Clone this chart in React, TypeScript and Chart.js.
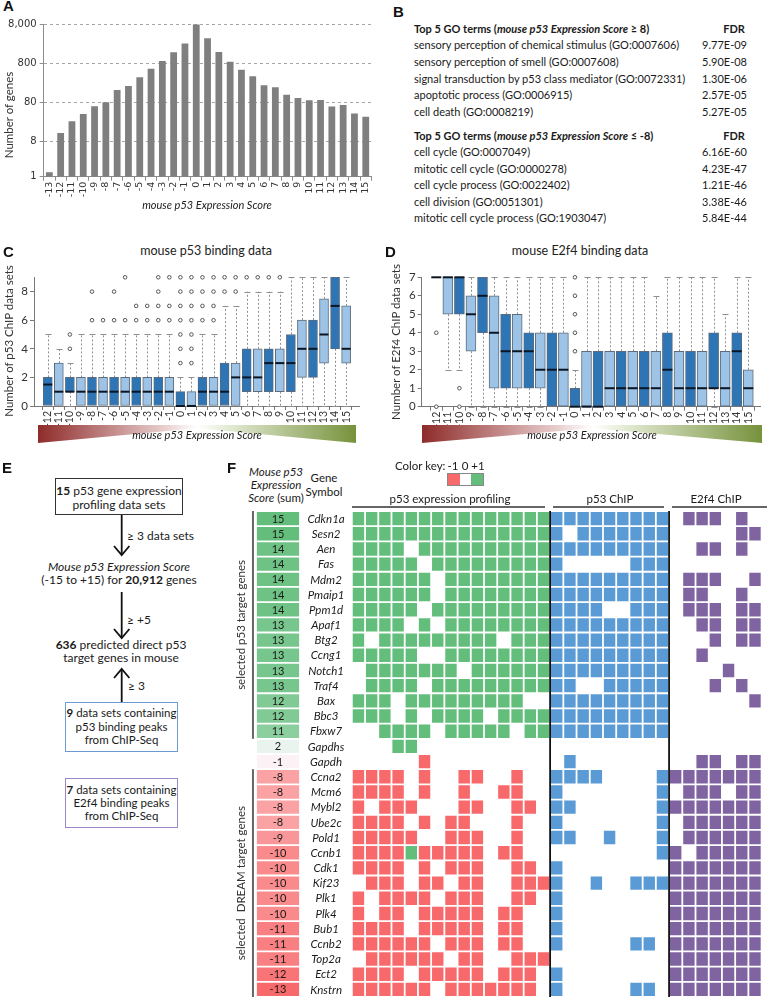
import React, { useEffect, useRef } from 'react';
import { Chart, registerables } from 'chart.js';

Chart.register(...registerables);

const FONT = "Lato, 'Noto Sans', sans-serif";
Chart.defaults.font.family = FONT;

// ---------------- Panel A data ----------------
const scoreCats = ['-13', '-12', '-11', '-10', '-9', '-8', '-7', '-6', '-5', '-4', '-3', '-2', '-1', '0', '1', '2', '3', '4', '5', '6', '7', '8', '9', '10', '11', '12', '13', '14', '15'];
const geneCounts = [1.3, 13, 26, 40, 63, 80, 165, 208, 347, 578, 908, 1513, 2522, 7720, 3450, 1543, 873, 545, 368, 217, 193, 125, 103, 90, 91, 62, 68, 41, 34];
const logTicks = [1, 8, 80, 800, 8000];

// ---------------- Panel B data ----------------
const goUpTerms = ['sensory perception of chemical stimulus (GO:0007606)', 'sensory perception of smell (GO:0007608)', 'signal transduction by p53 class mediator (GO:0072331)', 'apoptotic process (GO:0006915)', 'cell death (GO:0008219)'];
const goUpFdr = ['9.77E-09', '5.90E-08', '1.30E-06', '2.57E-05', '5.27E-05'];
const goDownTerms = ['cell cycle (GO:0007049)', 'mitotic cell cycle (GO:0000278)', 'cell cycle process (GO:0022402)', 'cell division (GO:0051301)', 'mitotic cell cycle process (GO:1903047)'];
const goDownFdr = ['6.16E-60', '4.23E-47', '1.21E-46', '3.38E-46', '5.84E-44'];

// ---------------- Panels C / D data ----------------
const boxCats = [-12, -11, -10, -9, -8, -7, -6, -5, -4, -3, -2, -1, 0, 1, 2, 3, 4, 5, 6, 7, 8, 9, 10, 11, 12, 13, 14, 15];
const p53Q1 = [0, 0, 1, 0, 0, 0, 0, 0, 0, 0, 0, 0, 0, 0, 0, 0, 0, 0, 1, 1, 1, 1, 1, 2, 2, 3, 4, 3];
const p53Med = [1.5, 1, 1, 1, 1, 1, 1, 1, 1, 1, 1, 1, 0, 0, 1, 1, 1, 2, 2, 2, 3, 3, 3, 4, 4, 5, 7, 4];
const p53Q3 = [2, 3, 2, 2, 2, 2, 2, 2, 2, 2, 2, 2, 1, 1, 2, 2, 3, 3, 4, 4, 4, 4, 5, 6, 6, 7.5, 9, 7];
const p53Lo = [0, 0, 0, 0, 0, 0, 0, 0, 0, 0, 0, 0, 0, 0, 0, 0, 0, 0, 0, 0, 0, 0, 0, 0, 0, 0, 0, 0];
const p53Hi = [5, 4, 3, 5, 5, 5, 5, 5, 5, 5, 5, 5, 2, 2, 5, 5, 7, 7, 8, 8, 8, 8, 9, 9, 9, 9, 9, 9];
const p53Out = [[], [], [4, 5], [], [6, 8], [6], [6, 8], [6, 9], [6, 7], [6, 7], [6, 7, 8, 9], [6, 7, 9], [3, 4, 5, 6, 7, 8, 9], [3, 4, 5, 6, 7, 8, 9], [6, 7, 8, 9], [6, 7, 8, 9], [8, 9], [8, 9], [9], [9], [9], [9], [], [], [], [], [], []];

const e2Q1 = [7, 5, 5, 3, 4, 1, 1, 1, 1, 1, 0, 0, 0, 0, 0, 0, 0, 0, 0, 0, 0, 0, 0, 0, 1, 0, 0, 0];
const e2Med = [7, 7, 7, 5, 6, 4, 3, 3, 3, 2, 2, 2, 0, 0, 0, 1, 1, 1, 1, 1, 2, 1, 1, 1, 1, 1, 3, 1];
const e2Q3 = [7, 7, 7, 6, 7, 6, 5, 5, 4, 4, 4, 4, 1, 3, 3, 3, 3, 3, 3, 3, 4, 3, 3, 3, 4, 3, 4, 2];
const e2Lo = [7, 2, 2, 0, 0, 0, 0, 0, 0, 0, 0, 0, 0, 0, 0, 0, 0, 0, 0, 0, 0, 0, 0, 0, 0, 0, 0, 0];
const e2Hi = [7, 7, 7, 7, 7, 7, 7, 7, 7, 7, 7, 7, 2, 7, 7, 7, 7, 7, 7, 6, 7, 7, 7, 7, 7, 5, 7, 7];
const e2Out = [[4, 0], [], [1, 0], [], [], [], [], [], [], [], [], [], [3, 4, 5, 6, 7], [], [], [], [], [], [], [], [], [], [], [], [], [], [], []];

// ---------------- Panel F data ----------------
const genes = ['Cdkn1a', 'Sesn2', 'Aen', 'Fas', 'Mdm2', 'Pmaip1', 'Ppm1d', 'Apaf1', 'Btg2', 'Ccng1', 'Notch1', 'Traf4', 'Bax', 'Bbc3', 'Fbxw7', 'Gapdhs', 'Gapdh', 'Ccna2', 'Mcm6', 'Mybl2', 'Ube2c', 'Pold1', 'Ccnb1', 'Cdk1', 'Kif23', 'Plk1', 'Plk4', 'Bub1', 'Ccnb2', 'Top2a', 'Ect2', 'Knstrn'];
const sumScores = [15, 15, 14, 14, 14, 14, 14, 13, 13, 13, 13, 13, 12, 12, 11, 2, -1, -8, -8, -8, -8, -9, -10, -10, -10, -10, -10, -11, -11, -11, -12, -13];
const exprRows = [
  '+++++++++++++++', '+++++++++++++++', '++++.++++++++++', '+++++.+++++++++', '++++++.++++++++',
  '++++++.++++++++', '+++++.+++++++++', '++++.+.++++++++', '+.+++++++++.+++', '+++++..++++++++',
  '.+++++++.++++++', '.++++.+++++++++', '+++.+++++++++..', '+++.+.++++.++++', '..++++.+++++.++',
  '...++..........', '.....-.........',
  '----.-..--..-..', '----.-..-..--..', '-.---...--..--.', '----.-.--...-..', '-----..---..-..',
  '----+-----.--..', '----.-.---..--.', '.---.--.--..---', '-.----.---..--.', '-.--.-----.--..',
  '----.-----.--..', '------.---.--..', '.------.--..---', '----.-----.---.', '------.-------.',
];
const p53ChipRows = [
  '111111111', '101111111', '111111111', '100000111', '111111111', '111111111', '111100111', '111111111',
  '111111111', '111111111', '111111111', '110011111', '111111111', '111111111', '111111111',
  '000000000', '010000000',
  '111100001', '100000001', '110000001', '100000001', '110010001', '000000001', '100000000', '100100111',
  '100000000', '100000000', '100000000', '100000110', '000000000', '100000000', '100000110',
];
const e2f4ChipRows = [
  '0111010', '0000011', '0011010', '0000000', '0111001', '0110010', '0111011', '0011011', '0001011',
  '0010000', '0000100', '0001010', '0000001', '0000000', '0000000',
  '0000000', '0011011',
  '1111111', '0111011', '1111111', '0111111', '0111111', '1011111', '1111111', '1111111', '1111111',
  '1111111', '1111111', '1111111', '1111111', '1111111', '1111111',
];

// ---------------- styles ----------------
const DARK = '#2e75b6';
const LIGHT = '#9dc3e6';
const HM_GREEN = '#63be7b';
const HM_RED = '#f8696b';
const HM_BLUE = '#5b9bd5';
const HM_PURPLE = '#8064a2';

function mix(a: number[], b: number[], t: number) {
  return `rgb(${a.map((v, i) => Math.round(v + (b[i] - v) * t)).join(',')})`;
}
function scoreColor(s: number) {
  const W = [252, 252, 255], G = [99, 190, 123], R = [248, 105, 107];
  return s >= 0 ? mix(W, G, s / 15) : mix(W, R, -s / 13);
}

function ChartCanvas({ left, top, width, height, make }: { left: number; top: number; width: number; height: number; make: () => any }) {
  const ref = useRef<HTMLCanvasElement | null>(null);
  useEffect(() => {
    if (!ref.current) return;
    const chart = new Chart(ref.current, make());
    return () => chart.destroy();
  }, []);
  return <canvas ref={ref} width={width} height={height} style={{ position: 'absolute', left, top, width, height }} />;
}

function configA() {
  return {
    type: 'bar',
    data: {
      labels: scoreCats,
      datasets: [{ data: geneCounts, backgroundColor: '#7f7f7f', barPercentage: 0.6, categoryPercentage: 1 }],
    },
    options: {
      animation: false, responsive: false, devicePixelRatio: 1, events: [],
      layout: { padding: { top: 24, right: 8.6, left: 0, bottom: 0 } },
      plugins: { legend: { display: false }, tooltip: { enabled: false } },
      scales: {
        x: {
          grid: { offset: true, drawOnChartArea: false, tickLength: 4, color: '#8c8c8c' },
          border: { color: '#8c8c8c' },
          ticks: { autoSkip: false, minRotation: 90, maxRotation: 90, padding: 1, color: '#333', font: { family: 'DejaVu Sans', size: 9.5 } },
          afterFit: (s: any) => { s.height = 23.3; },
        },
        y: {
          type: 'logarithmic', min: 1, max: 8000,
          afterBuildTicks: (s: any) => { s.ticks = logTicks.map((v) => ({ value: v })); },
          ticks: { callback: (v: any) => Number(v).toLocaleString('en-US'), color: '#333', padding: 3, font: { family: 'DejaVu Sans', size: 10 } },
          grid: { color: (ctx: any) => (ctx.tick && ctx.tick.value === 1 ? 'rgba(0,0,0,0)' : '#a6a6a6'), tickColor: '#8c8c8c', tickLength: 4 },
          border: { dash: [3, 3], color: '#8c8c8c' },
          afterFit: (s: any) => { s.width = 43.7; },
        },
      },
    },
  };
}

type BoxP = {
  q1: number[]; med: number[]; q3: number[]; lo: number[]; hi: number[]; out: number[][];
  yMax: number; xMin: number; xMax: number; padTop: number; padRight: number; axisW: number; axisH: number; thick: number; cap: number;
};

function makeBox(p: BoxP) {
  const colors = boxCats.map((_, i) => (i % 2 === 0 ? DARK : LIGHT));
  const outPts: { x: number; y: number }[] = [];
  p.out.forEach((arr, i) => arr.forEach((v) => outPts.push({ x: boxCats[i], y: v })));
  const whisker = {
    id: 'whisker',
    beforeDatasetsDraw(chart: any) {
      const { ctx, scales: { x, y } } = chart;
      ctx.save();
      ctx.strokeStyle = '#8f8f8f';
      ctx.lineWidth = 1;
      boxCats.forEach((c, i) => {
        const px = Math.round(x.getPixelForValue(c)) + 0.5;
        const yq1 = y.getPixelForValue(p.q1[i]);
        const yq3 = y.getPixelForValue(p.q3[i]);
        const ylo = y.getPixelForValue(p.lo[i]);
        const yhi = y.getPixelForValue(p.hi[i]);
        ctx.setLineDash([2, 2]);
        ctx.beginPath();
        if (p.hi[i] > p.q3[i]) { ctx.moveTo(px, yq3); ctx.lineTo(px, yhi); }
        if (p.lo[i] < p.q1[i]) { ctx.moveTo(px, yq1); ctx.lineTo(px, ylo); }
        ctx.stroke();
        ctx.setLineDash([]);
        ctx.beginPath();
        if (p.hi[i] > p.q3[i]) { ctx.moveTo(px - p.cap, Math.round(yhi) + 0.5); ctx.lineTo(px + p.cap, Math.round(yhi) + 0.5); }
        if (p.lo[i] < p.q1[i]) { ctx.moveTo(px - p.cap, Math.round(ylo) + 0.5); ctx.lineTo(px + p.cap, Math.round(ylo) + 0.5); }
        ctx.stroke();
      });
      ctx.restore();
    },
  };
  return {
    type: 'bar',
    data: {
      datasets: [
        {
          type: 'line', order: 0, clip: false, showLine: false,
          data: boxCats.map((c, i) => ({ x: c, y: p.med[i] })),
          pointStyle: 'line', pointRadius: p.thick / 2, pointBorderWidth: 2, pointBorderColor: '#0a1624',
        },
        {
          type: 'line', order: 1, clip: false, showLine: false, data: outPts,
          pointStyle: 'circle', pointRadius: 1.8, pointBorderWidth: 1, pointBorderColor: '#555', pointBackgroundColor: '#fff',
        },
        {
          type: 'bar', order: 2, clip: false,
          data: boxCats.map((c, i) => ({ x: c, y: [p.q1[i], p.q3[i]] })),
          backgroundColor: colors, borderColor: '#5c6c7c', borderWidth: 1, borderSkipped: false, barThickness: p.thick,
        },
      ],
    },
    options: {
      animation: false, responsive: false, devicePixelRatio: 1, events: [],
      layout: { padding: { top: p.padTop, right: p.padRight, left: 0, bottom: 0 } },
      plugins: { legend: { display: false }, tooltip: { enabled: false } },
      scales: {
        x: {
          type: 'linear', min: p.xMin, max: p.xMax,
          afterBuildTicks: (s: any) => { s.ticks = boxCats.map((v) => ({ value: v })); },
          ticks: { autoSkip: false, minRotation: 90, maxRotation: 90, padding: 1, color: '#333', font: { size: 10.5 }, callback: (v: any) => String(v) },
          grid: { drawOnChartArea: false, tickLength: 4, color: '#777' },
          border: { color: '#777' },
          afterFit: (s: any) => { s.height = p.axisH; },
        },
        y: {
          min: 0, max: p.yMax,
          ticks: { stepSize: 1, color: '#333', padding: 2, font: { size: 11.5 } },
          grid: { drawOnChartArea: false, tickLength: 4, color: '#777' },
          border: { color: '#777' },
          afterFit: (s: any) => { s.width = p.axisW; },
        },
      },
    },
    plugins: [whisker],
  };
}

const configC = () => makeBox({ q1: p53Q1, med: p53Med, q3: p53Q3, lo: p53Lo, hi: p53Hi, out: p53Out, yMax: 9, xMin: -12.72, xMax: 15.72, padTop: 37.3, padRight: 20.1, axisW: 34, axisH: 34, thick: 9, cap: 3 });
const configD = () => makeBox({ q1: e2Q1, med: e2Med, q3: e2Q3, lo: e2Lo, hi: e2Hi, out: e2Out, yMax: 7, xMin: -12.74, xMax: 15.49, padTop: 37.3, padRight: 0.9, axisW: 36.7, axisH: 33.3, thick: 10, cap: 3 });

const SCORE_X0 = -7.25;
const SCORE_X1 = -3.92;
const GENE_X = -1.95;

function cellValue(r: number, c: number) {
  if (c < 15) { const ch = exprRows[r][c]; return ch === '+' ? 1 : ch === '-' ? -1 : 0; }
  if (c < 24) return p53ChipRows[r][c - 15] === '1' ? 1 : 0;
  return e2f4ChipRows[r][c - 24] === '1' ? 1 : 0;
}
function cellColor(c: number, v: number) {
  if (c < 15) return v > 0 ? HM_GREEN : HM_RED;
  if (c < 24) return HM_BLUE;
  return HM_PURPLE;
}

function configF() {
  const common = { borderColor: '#ffffff', borderWidth: 0.9, borderSkipped: false, grouped: false, barPercentage: 1, categoryPercentage: 1, inflateAmount: 0 };
  const datasets: any[] = [
    { ...common, data: genes.map(() => [SCORE_X0, SCORE_X1]), backgroundColor: sumScores.map(scoreColor) },
  ];
  for (let c = 0; c < 31; c++) {
    const data: any[] = [];
    const bg: string[] = [];
    genes.forEach((_, r) => {
      const v = cellValue(r, c);
      data.push(v !== 0 ? [c, c + 1] : null);
      bg.push(v !== 0 ? cellColor(c, v) : 'rgba(0,0,0,0)');
    });
    datasets.push({ ...common, data, backgroundColor: bg });
  }
  const textPlugin = {
    id: 'heatText',
    afterDatasetsDraw(chart: any) {
      const { ctx, scales: { x, y }, chartArea } = chart;
      const band = y.getPixelForValue(1) - y.getPixelForValue(0);
      ctx.save();
      ctx.textAlign = 'center';
      ctx.textBaseline = 'middle';
      genes.forEach((g, r) => {
        const yc = y.getPixelForValue(r);
        ctx.fillStyle = '#1a1a1a';
        ctx.font = `11px ${FONT}`;
        ctx.fillText(String(sumScores[r]), x.getPixelForValue((SCORE_X0 + SCORE_X1) / 2), yc + 0.5);
        ctx.font = `italic 11.5px ${FONT}`;
        ctx.fillText(g, x.getPixelForValue(GENE_X), yc + 0.5);
      });
      ctx.strokeStyle = '#111';
      ctx.lineWidth = 1.8;
      [15, 24].forEach((v) => {
        const px = x.getPixelForValue(v);
        ctx.beginPath();
        ctx.moveTo(px, chartArea.top);
        ctx.lineTo(px, chartArea.bottom);
        ctx.stroke();
      });
      const bx = x.getPixelForValue(-7.48);
      ctx.strokeStyle = '#666';
      ctx.lineWidth = 2;
      const groups = [[0, 14, 'selected p53 target genes'], [17, 31, 'selected  DREAM target genes']] as [number, number, string][];
      groups.forEach(([a, b, label]) => {
        const y0 = y.getPixelForValue(a) - band / 2;
        const y1 = y.getPixelForValue(b) + band / 2;
        ctx.beginPath();
        ctx.moveTo(bx, y0);
        ctx.lineTo(bx, y1);
        ctx.stroke();
        ctx.save();
        ctx.translate(x.getPixelForValue(-8.4), (y0 + y1) / 2);
        ctx.rotate(-Math.PI / 2);
        ctx.fillStyle = '#333';
        ctx.font = `11.5px ${FONT}`;
        ctx.fillText(label, 0, 0);
        ctx.restore();
      });
      ctx.restore();
    },
  };
  return {
    type: 'bar',
    data: { labels: genes, datasets },
    options: {
      indexAxis: 'y', animation: false, responsive: false, devicePixelRatio: 1, events: [],
      layout: { padding: { top: 6, right: 5.4, left: 31, bottom: 0 } },
      plugins: { legend: { display: false }, tooltip: { enabled: false } },
      scales: {
        x: { type: 'linear', min: SCORE_X0, max: 31, display: false },
        y: { type: 'category', display: false, offset: true },
      },
    },
    plugins: [textPlugin],
  };
}

// ---------------- HTML helpers ----------------
function T({ x, y, align = 'left', size = 11, style, children }: any) {
  const tr = align === 'center' ? 'translateX(-50%)' : align === 'right' ? 'translateX(-100%)' : undefined;
  return (
    <div style={{ position: 'absolute', left: x, top: y - 8, height: 16, lineHeight: '16px', whiteSpace: 'pre', transform: tr, fontFamily: FONT, fontSize: size, color: '#1a1a1a', ...style }}>
      {children}
    </div>
  );
}
function VT({ x, y, size = 11.5, children, style }: any) {
  return (
    <div style={{ position: 'absolute', left: x, top: y, transform: 'translate(-50%,-50%) rotate(-90deg)', whiteSpace: 'pre', fontFamily: FONT, fontSize: size, color: '#333', lineHeight: '14px', ...style }}>
      {children}
    </div>
  );
}
function Letter({ x, y, children }: any) {
  return <div style={{ position: 'absolute', left: x, top: y - 9, lineHeight: '18px', fontFamily: "'Liberation Sans', Arial, sans-serif", fontWeight: 'bold', fontSize: 15, color: '#111' }}>{children}</div>;
}
function Wedge({ x, w, textX }: { x: number; w: number; textX: number }) {
  return (
    <>
      <div style={{ position: 'absolute', left: x, top: 425, width: w, height: 18, background: 'linear-gradient(to right, #8e2c2a, #e9cfcf 40%, #ffffff 50%, #e3ead3 60%, #76923c)', clipPath: 'polygon(0 0, 100% 0, 100% 100%, 50% 18%, 0 100%)' }} />
      <T x={textX} y={435} align="center" size={11} style={{ fontStyle: 'italic', color: '#222' }}>mouse p53 Expression Score</T>
    </>
  );
}

export default function App() {
  useEffect(() => {
    document.body.style.margin = '0';
    document.body.style.overflow = 'hidden';
  }, []);
  const bRowsY1 = [45.3, 61.9, 78.5, 95.1, 111.7];
  const bRowsY2 = [152, 168.6, 185.2, 201.8, 218.4];
  const BS = 11;
  return (
    <div style={{ position: 'absolute', left: 0, top: 0, width: 767, height: 997, overflow: 'hidden', background: '#fff', fontFamily: FONT }}>
      {/* Panel A */}
      <Letter x={3} y={6}>A</Letter>
      <ChartCanvas left={0} top={0} width={380} height={200} make={configA} />
      <VT x={9} y={115} size={11.5}>Number of genes</VT>
      <T x={207} y={205} align="center" size={11} style={{ fontStyle: 'italic', color: '#222' }}>mouse p53 Expression Score</T>

      {/* Panel B */}
      <Letter x={393} y={12}>B</Letter>
      <T x={414} y={29} size={BS} style={{ fontWeight: 'bold' }}>Top 5 GO terms (<i>mouse p53 Expression Score</i> ≥ 8)</T>
      <T x={734} y={29} size={BS} align="center" style={{ fontWeight: 'bold' }}>FDR</T>
      {goUpTerms.map((t, i) => <T key={'u' + i} size={BS} x={414} y={bRowsY1[i]}>{t}</T>)}
      {goUpFdr.map((t, i) => <T key={'uf' + i} size={BS} x={747} y={bRowsY1[i]} align="right">{t}</T>)}
      <T x={414} y={136} size={BS} style={{ fontWeight: 'bold' }}>Top 5 GO terms (<i>mouse p53 Expression Score</i> ≤ -8)</T>
      <T x={734} y={136} size={BS} align="center" style={{ fontWeight: 'bold' }}>FDR</T>
      {goDownTerms.map((t, i) => <T key={'d' + i} size={BS} x={414} y={bRowsY2[i]}>{t}</T>)}
      {goDownFdr.map((t, i) => <T key={'df' + i} size={BS} x={747} y={bRowsY2[i]} align="right">{t}</T>)}

      {/* Panel C */}
      <Letter x={3} y={252}>C</Letter>
      <T x={206} y={251} align="center" size={12.5} style={{ color: '#222' }}>mouse p53 binding data</T>
      <ChartCanvas left={0} top={240} width={380} height={200} make={configC} />
      <VT x={9} y={341}>Number of p53 ChIP data sets</VT>
      <Wedge x={38} w={318} textX={197} />

      {/* Panel D */}
      <Letter x={385} y={252}>D</Letter>
      <T x={580} y={251} align="center" size={12.5} style={{ color: '#222' }}>mouse E2f4 binding data</T>
      <ChartCanvas left={385} top={240} width={382} height={200} make={configD} />
      <VT x={396} y={342}>Number of E2f4 ChIP data sets</VT>
      <Wedge x={422} w={340} textX={592} />

      {/* Panel E */}
      <Letter x={2} y={468}>E</Letter>
      <div style={{ position: 'absolute', left: 55, top: 478, width: 128, height: 37, border: '1px solid #333', boxSizing: 'border-box' }} />
      <T x={119} y={491} align="center" size={12}><b>15</b> p53 gene expression</T>
      <T x={119} y={505} align="center" size={12}>profiling data sets</T>
      <T x={127} y={536} size={12}>≥ 3 data sets</T>
      <T x={119} y={567} align="center" size={12} style={{ fontStyle: 'italic' }}>Mouse p53 Expression Score</T>
      <T x={119} y={580} align="center" size={12}>(-15 to +15) for <b>20,912</b> genes</T>
      <T x={127} y={620} size={12}>≥ +5</T>
      <T x={121} y={645} align="center" size={12}><b>636</b> predicted direct p53</T>
      <T x={121} y={658} align="center" size={12}>target genes in mouse</T>
      <T x={128} y={686} size={12}>≥ 3</T>
      <div style={{ position: 'absolute', left: 65, top: 702, width: 113, height: 50, border: '1.5px solid #6d9bd1', boxSizing: 'border-box' }} />
      <T x={121.5} y={713} align="center" size={11.5}><b>9</b> data sets containing</T>
      <T x={121.5} y={727} align="center" size={11.5}>p53 binding peaks</T>
      <T x={121.5} y={740} align="center" size={11.5}>from ChIP-Seq</T>
      <div style={{ position: 'absolute', left: 65, top: 778, width: 113, height: 50, border: '1.5px solid #9b88c2', boxSizing: 'border-box' }} />
      <T x={121.5} y={790} align="center" size={11.5}><b>7</b> data sets containing</T>
      <T x={121.5} y={803} align="center" size={11.5}>E2f4 binding peaks</T>
      <T x={121.5} y={816} align="center" size={11.5}>from ChIP-Seq</T>
      <svg style={{ position: 'absolute', left: 0, top: 0 }} width={240} height={997}>
        <g stroke="#111" strokeWidth={1.8} fill="none">
          <line x1={121.7} y1={515} x2={121.7} y2={555} />
          <polyline points="114,546 121.7,555 129.4,546" />
          <line x1={121.7} y1={592} x2={121.7} y2={638} />
          <polyline points="114,629 121.7,638 129.4,629" />
          <line x1={121.7} y1={702} x2={121.7} y2={669} />
          <polyline points="114,678 121.7,669 129.4,678" />
        </g>
      </svg>

      {/* Panel F */}
      <Letter x={227} y={468}>F</Letter>
      <T x={276} y={472} align="center" size={11.5} style={{ fontStyle: 'italic' }}>Mouse p53</T>
      <T x={276} y={485} align="center" size={11.5} style={{ fontStyle: 'italic' }}>Expression</T>
      <T x={276} y={498} align="center" size={11.5}><i>Score</i> (sum)</T>
      <T x={324} y={478} align="center" size={11.5}>Gene</T>
      <T x={324} y={492} align="center" size={11.5}>Symbol</T>
      <T x={395} y={466} size={11.5}>Color key:</T>
      <T x={453} y={466} align="center" size={11.5}>-1</T>
      <T x={465} y={466} align="center" size={11.5}>0</T>
      <T x={478} y={466} align="center" size={11.5}>+1</T>
      <div style={{ position: 'absolute', left: 447, top: 473, width: 37, height: 13, border: '1px solid #888', boxSizing: 'border-box', display: 'flex' }}>
        <div style={{ flex: 1, background: HM_RED }} />
        <div style={{ flex: 1, background: '#fff' }} />
        <div style={{ flex: 1, background: HM_GREEN }} />
      </div>
      <T x={450} y={499} align="center" size={11.5}>p53 expression profiling</T>
      <div style={{ position: 'absolute', left: 352, top: 506, width: 193, height: 2, background: '#666' }} />
      <T x={610} y={499} align="center" size={11.5}>p53 ChIP</T>
      <div style={{ position: 'absolute', left: 553, top: 506, width: 111, height: 2, background: '#666' }} />
      <T x={716} y={499} align="center" size={11.5}>E2f4 ChIP</T>
      <div style={{ position: 'absolute', left: 672, top: 506, width: 95, height: 2, background: '#666' }} />
      <ChartCanvas left={225} top={505} width={542} height={492} make={configF} />
    </div>
  );
}
